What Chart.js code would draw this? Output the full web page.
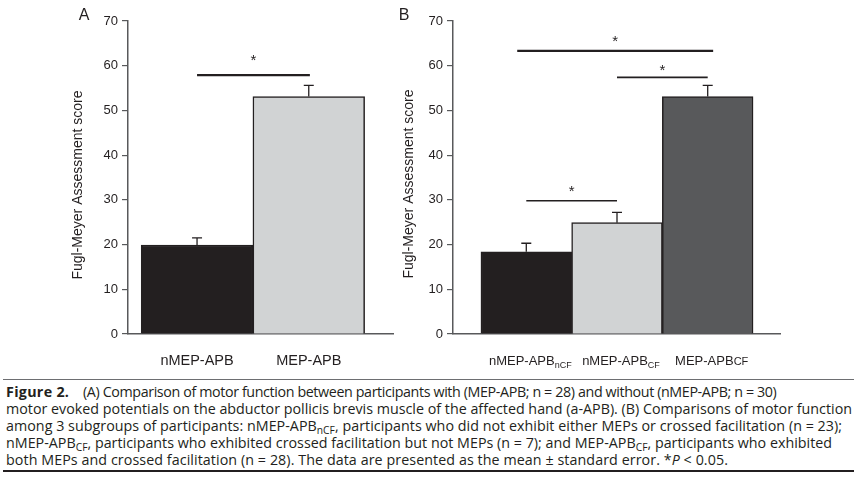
<!DOCTYPE html>
<html>
<head>
<meta charset="utf-8">
<script src="https://cdn.jsdelivr.net/npm/chart.js@4.4.1/dist/chart.umd.min.js"></script>
<style>
    body { margin: 0; background: #fff; width: 859px; height: 481px; position: relative; overflow: hidden; }
    #panelA { position: absolute; left: 0; top: 0; }
    #panelB { position: absolute; left: 395px; top: 0; }
    #caption {
        position: absolute; left: 3px; top: 379px; width: 851px;
        border-top: 1.5px solid #6d6e71; border-bottom: 2px solid #231f20;
        padding: 3px 0 2px 3px; box-sizing: border-box;
        font-family: "Open Sans", "Noto Sans", sans-serif; font-size: 13px; line-height: 17px; color: #231f20;
    }
    #caption div { white-space: nowrap; width: max-content; }
    #caption sub { font-size: 0.72em; line-height: 0; vertical-align: -0.25em; }
    #caption b { display: inline-block; width: 77px; letter-spacing: 0.3px; }
</style>
</head>
<body>
<canvas id="panelA" width="395" height="375"></canvas>
<canvas id="panelB" width="464" height="375"></canvas>
<div id="caption">
<div><b>Figure 2.</b>(A) Comparison of motor function between participants with (MEP-APB; n = 28) and without (nMEP-APB; n = 30)</div>
<div>motor evoked potentials on the abductor pollicis brevis muscle of the affected hand (a-APB). (B) Comparisons of motor function</div>
<div>among 3 subgroups of participants: nMEP-APB<sub>nCF</sub>, participants who did not exhibit either MEPs or crossed facilitation (n = 23);</div>
<div>nMEP-APB<sub>CF</sub>, participants who exhibited crossed facilitation but not MEPs (n = 7); and MEP-APB<sub>CF</sub>, participants who exhibited</div>
<div>both MEPs and crossed facilitation (n = 28). The data are presented as the mean ± standard error. *<i>P</i> &lt; 0.05.</div>
</div>
<script>
// Panel A: with / without MEPs
const labelsA = ['nMEP-APB', 'MEP-APB'];
const subsA = ['', ''];
const meansA = [19.9, 53.1];
const errorsA = [1.6, 2.5];
const sigFromA = [0];
const sigToA = [1.01];
const sigLevelA = [57.9];
const starLevelA = [62.0];

// Panel B: three subgroups
const labelsB = ['nMEP-APB', 'nMEP-APB', 'MEP-APB'];
const subsB = ['nCF', 'CF', 'CF'];
const meansB = [18.4, 24.9, 53.1];
const errorsB = [1.9, 2.3, 2.5];
const sigFromB = [-0.10, 1.0, 0.0];
const sigToB = [2.06, 2.0, 1.0];
const sigLevelB = [63.3, 57.4, 29.8];
const starLevelB = [66.2, 59.7, 32.6];

const yTicks = [0, 10, 20, 30, 40, 50, 60, 70];

const INK = '#231f20';
const AXIS = '#58595b';
const FONT = '"Liberation Sans", Arial, sans-serif';

function annotations(p) {
    return {
        id: 'annot',
        afterDatasetsDraw(chart) {
            const { ctx, scales: { x, y } } = chart;
            ctx.save();
            ctx.strokeStyle = INK;
            ctx.fillStyle = INK;

            // error bars (upper whisker only)
            ctx.lineWidth = 1.3;
            p.means.forEach((m, i) => {
                const px = x.getPixelForValue(i);
                const top = y.getPixelForValue(m + p.errors[i]);
                ctx.beginPath();
                ctx.moveTo(px, y.getPixelForValue(m));
                ctx.lineTo(px, top);
                ctx.moveTo(px - 5, top);
                ctx.lineTo(px + 5, top);
                ctx.stroke();
            });

            // significance lines and stars
            ctx.font = '15px ' + FONT;
            ctx.textAlign = 'center';
            ctx.textBaseline = 'alphabetic';
            p.sigFrom.forEach((f, i) => {
                const x0 = x.getPixelForValue(f);
                const x1 = x.getPixelForValue(p.sigTo[i]);
                const ly = y.getPixelForValue(p.sigLevel[i]);
                ctx.lineWidth = p.sigWidths[i];
                ctx.beginPath();
                ctx.moveTo(x0, ly);
                ctx.lineTo(x1, ly);
                ctx.stroke();
                ctx.fillText('*', (x0 + x1) / 2, y.getPixelForValue(p.starLevel[i]) + 8);
            });

            // category labels, with subscripts where needed
            p.labels.forEach((lab, i) => {
                const cx = x.getPixelForValue(i);
                const by = y.bottom + 31;
                ctx.font = p.labelSize + 'px ' + FONT;
                const wMain = ctx.measureText(lab).width;
                const subSize = p.subLowered[i] ? 9 : 11;
                ctx.font = subSize + 'px ' + FONT;
                const wSub = p.subs[i] ? ctx.measureText(p.subs[i]).width : 0;
                const start = cx - (wMain + wSub) / 2 + p.labelShift;
                ctx.textAlign = 'left';
                ctx.font = p.labelSize + 'px ' + FONT;
                ctx.fillText(lab, start, by);
                if (p.subs[i]) {
                    ctx.font = subSize + 'px ' + FONT;
                    ctx.fillText(p.subs[i], start + wMain, by + (p.subLowered[i] ? 3 : 0));
                }
            });

            // y axis title
            ctx.font = '14px ' + FONT;
            ctx.textAlign = 'center';
            ctx.textBaseline = 'middle';
            ctx.save();
            ctx.translate(p.titleX, p.titleY);
            ctx.rotate(-Math.PI / 2);
            ctx.fillText('Fugl-Meyer Assessment score', 0, 0);
            ctx.restore();

            // panel letter
            ctx.font = '16px ' + FONT;
            ctx.textBaseline = 'alphabetic';
            ctx.fillText(p.letter, p.letterX, 20);
            ctx.restore();
        }
    };
}

function makePanel(id, p) {
    return new Chart(document.getElementById(id), {
        type: 'bar',
        data: {
            datasets: [{
                data: p.means.map((m, i) => ({ x: i, y: m })),
                backgroundColor: p.colors,
                borderColor: INK,
                borderWidth: 1.5,
                barPercentage: 1,
                categoryPercentage: 1
            }]
        },
        options: {
            responsive: false,
            animation: false,
            layout: { padding: p.padding },
            plugins: { legend: { display: false }, tooltip: { enabled: false } },
            scales: {
                x: {
                    type: 'linear',
                    offset: false,
                    min: p.xMin,
                    max: p.xMax,
                    afterBuildTicks: s => { s.ticks = p.labels.map((_, i) => ({ value: i })); },
                    afterFit: s => { s.height = p.xHeight; },
                    ticks: { display: false },
                    grid: { display: false, offset: false },
                    border: { color: AXIS, width: 1.5 }
                },
                y: {
                    min: 0,
                    max: 70,
                    afterBuildTicks: s => { s.ticks = yTicks.map(v => ({ value: v })); },
                    afterFit: s => { s.width = p.yWidth; },
                    ticks: { color: INK, padding: 4, font: { family: FONT, size: 13 } },
                    grid: { drawOnChartArea: false, tickLength: 6, color: AXIS, lineWidth: 1.2 },
                    border: { color: AXIS, width: 1.5 }
                }
            }
        },
        plugins: [annotations(p)]
    });
}

makePanel('panelA', {
    labels: labelsA, subs: subsA, subLowered: [false, false],
    means: meansA, errors: errorsA,
    sigFrom: sigFromA, sigTo: sigToA, sigLevel: sigLevelA, starLevel: starLevelA,
    sigWidths: [2.2],
    colors: ['#231f20', '#d1d3d4'],
    padding: { left: 0, right: 2, top: 21, bottom: 0 },
    yWidth: 128, xHeight: 41, xMin: -0.618, xMax: 1.754,
    labelSize: 14.5, labelShift: 0,
    titleX: 78, titleY: 185, letter: 'A', letterX: 84
});

makePanel('panelB', {
    labels: labelsB, subs: subsB, subLowered: [true, true, false],
    means: meansB, errors: errorsB,
    sigFrom: sigFromB, sigTo: sigToB, sigLevel: sigLevelB, starLevel: starLevelB,
    sigWidths: [2.2, 1.6, 1.6],
    colors: ['#231f20', '#d1d3d4', '#58595b'],
    padding: { left: 0, right: 79, top: 21, bottom: 0 },
    yWidth: 58, xHeight: 41, xMin: -0.808, xMax: 2.797,
    labelSize: 13, labelShift: 4,
    titleX: 14, titleY: 184, letter: 'B', letterX: 9
});

// caption: size the font from the longest line, then nudge each line to its printed length
const cap = document.getElementById('caption');
const lineEnds = [773, 852, 842, 832, 728];
const w = cap.children[1].getBoundingClientRect().width;
cap.style.fontSize = (13 * 846 / w).toFixed(2) + 'px';
Array.from(cap.children).forEach((line, i) => {
    const r = line.getBoundingClientRect();
    const n = line.textContent.length;
    line.style.letterSpacing = ((lineEnds[i] - r.right) / n).toFixed(3) + 'px';
});
</script>
</body>
</html>
